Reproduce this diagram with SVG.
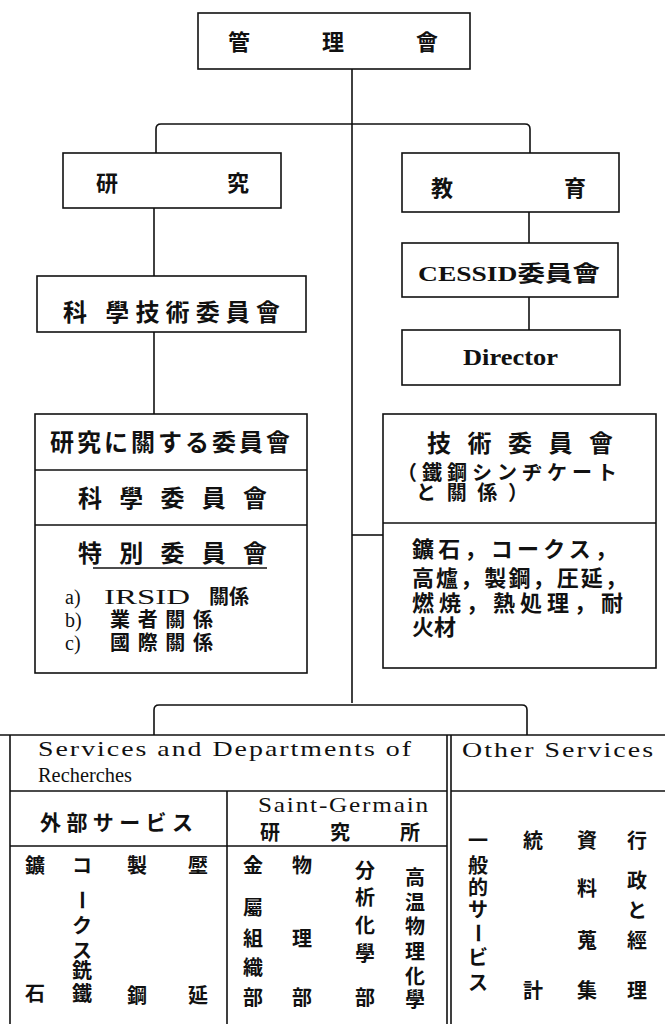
<svg xmlns="http://www.w3.org/2000/svg" width="665" height="1024" viewBox="0 0 665 1024">
<style>
.bx{fill:none;stroke:#111;stroke-width:1.6}
.ln{fill:none;stroke:#111;stroke-width:1.6}
.t{font-family:"Liberation Serif","Noto Sans CJK JP",serif;fill:#111}
.cj{font-family:"Liberation Serif","Noto Sans CJK JP",serif;font-weight:700;fill:#111}
.c22{font-size:22px}
.c24{font-size:24px}
.c20{font-size:20px}
.v{font-family:"Noto Sans CJK JP",sans-serif;font-weight:700;font-size:20px;fill:#111;text-anchor:middle}
.lat{font-family:"Liberation Serif",serif;font-size:21px;letter-spacing:1.5px;fill:#111}
</style>
<rect width="665" height="1024" fill="#fff"/>
<g id="connectors">
<path class="ln" d="M352 69 V703"/>
<path class="ln" d="M156 153 V129 Q156 124 161 124 H525 Q530 124 530 129 V153"/>
<path class="ln" d="M154 208 V276"/>
<path class="ln" d="M154 332 V414"/>
<path class="ln" d="M529 212 V243"/>
<path class="ln" d="M529 297 V330"/>
<path class="ln" d="M352 535 H383"/>
<path class="ln" d="M154 735 V710 Q154 705 159 705 H522 Q527 705 527 710 V735"/>
</g>
<g id="kanri">
<rect class="bx" x="198" y="13" width="272" height="56"/>
<text class="cj c22" x="239" y="50" text-anchor="middle">管</text>
<text class="cj c22" x="333" y="50" text-anchor="middle">理</text>
<text class="cj c22" x="427" y="50" text-anchor="middle">會</text>
</g>
<g id="kenkyu">
<rect class="bx" x="63" y="153" width="218" height="55"/>
<text class="cj c22" x="107" y="191" text-anchor="middle">研</text>
<text class="cj c22" x="238" y="191" text-anchor="middle">究</text>
</g>
<g id="kyoiku">
<rect class="bx" x="402" y="153" width="217" height="59"/>
<text class="cj c22" x="442" y="196" text-anchor="middle">教</text>
<text class="cj c22" x="575" y="196" text-anchor="middle">育</text>
</g>
<g id="kagaku-gijutsu">
<rect class="bx" x="37" y="276" width="269" height="56"/>
<text class="cj c24" x="63" y="321" textLength="217" lengthAdjust="spacing">科 學技術委員會</text>
</g>
<g id="cessid">
<rect class="bx" x="402" y="243" width="216" height="54"/>
<text class="cj c22" x="418" y="281" textLength="182" lengthAdjust="spacingAndGlyphs">CESSID委員會</text>
</g>
<g id="director">
<rect class="bx" x="402" y="330" width="218" height="55"/>
<text class="cj c24" x="463" y="365" textLength="95" lengthAdjust="spacingAndGlyphs">Director</text>
</g>
<g id="research-committees">
<rect class="bx" x="35" y="414" width="272" height="259"/>
<path class="ln" d="M35 470 H307 M35 525 H307"/>
<text class="cj c24" x="50" y="451" textLength="240" lengthAdjust="spacing">研究に關する委員會</text>
<text class="cj c24" x="78" y="507" textLength="189" lengthAdjust="spacing">科學委員會</text>
<text class="cj c24" x="78" y="562" textLength="189" lengthAdjust="spacing">特別委員會</text>
<path class="ln" d="M93 568 H267"/>
<text class="t" font-size="20" x="65" y="604">a) <tspan x="104" font-size="22" textLength="86" lengthAdjust="spacingAndGlyphs">IRSID</tspan> <tspan x="209" font-weight="700">關係</tspan></text>
<text class="t" font-size="20" x="65" y="627">b) <tspan x="110" font-weight="700" textLength="103" lengthAdjust="spacing">業者關係</tspan></text>
<text class="t" font-size="20" x="65" y="650">c) <tspan x="110" font-weight="700" textLength="103" lengthAdjust="spacing">國際關係</tspan></text>
</g>
<g id="technical-committee">
<rect class="bx" x="383" y="414" width="273" height="254"/>
<path class="ln" d="M383 523 H656"/>
<text class="cj c24" x="427" y="452" textLength="186" lengthAdjust="spacing">技術委員會</text>
<text class="cj c20" x="397" y="480" textLength="220" lengthAdjust="spacing">（鐵鋼シンヂケート</text>
<text class="cj c20" x="416" y="500" textLength="112" lengthAdjust="spacing">と關係）</text>
<text class="cj c22" x="412" y="557" textLength="205" lengthAdjust="spacing">鑛石，コークス，</text>
<text class="cj c22" x="412" y="586" textLength="215" lengthAdjust="spacing">高爐，製鋼，圧延，</text>
<text class="cj c22" x="412" y="611" textLength="211" lengthAdjust="spacing">燃焼，熱処理，耐</text>
<text class="cj c22" x="412" y="635">火材</text>
</g>
<g id="services-table">
<path class="ln" d="M0 735 H665 M10 735 V1024 M447 735 V1024 M451 735 V1024 M10 791 H447 M451 791 H665 M227 791 V1024 M10 846 H447"/>
<text class="lat" x="38" y="756" textLength="375" lengthAdjust="spacingAndGlyphs">Services and  Departments of</text>
<text class="lat" x="38" y="782" style="letter-spacing:0;font-size:22px" textLength="94" lengthAdjust="spacingAndGlyphs">Recherches</text>
<text class="lat" x="462" y="757" textLength="193" lengthAdjust="spacingAndGlyphs">Other Services</text>
<text class="lat" x="258" y="812" textLength="172" lengthAdjust="spacingAndGlyphs">Saint-Germain</text>
<text class="v" x="270" y="840">研</text>
<text class="v" x="340" y="840">究</text>
<text class="v" x="410" y="840">所</text>
<text class="cj" font-size="21" x="40" y="830" textLength="153" lengthAdjust="spacing">外部サービス</text>
</g>
<g id="gaibu-columns">
<text class="v" x="35" y="873">鑛</text>
<text class="v" x="35" y="1001">石</text>
<text class="v" x="82" y="873">コ</text>
<text class="v" x="82" y="908" transform="rotate(90 82 900)">ー</text>
<text class="v" x="82" y="933">ク</text>
<text class="v" x="82" y="958">ス</text>
<text class="v" x="82" y="978">銑</text>
<text class="v" x="82" y="1001">鐵</text>
<text class="v" x="137" y="873">製</text>
<text class="v" x="137" y="1003">鋼</text>
<text class="v" x="198" y="873">壓</text>
<text class="v" x="198" y="1003">延</text>
</g>
<g id="saint-germain-columns">
<text class="v" x="253" y="873">金</text>
<text class="v" x="253" y="915">屬</text>
<text class="v" x="253" y="946">組</text>
<text class="v" x="253" y="975">織</text>
<text class="v" x="253" y="1005">部</text>
<text class="v" x="302" y="873">物</text>
<text class="v" x="302" y="946">理</text>
<text class="v" x="302" y="1005">部</text>
<text class="v" x="365" y="878">分</text>
<text class="v" x="365" y="905">析</text>
<text class="v" x="365" y="933">化</text>
<text class="v" x="365" y="961">學</text>
<text class="v" x="365" y="1005">部</text>
<text class="v" x="415" y="885">高</text>
<text class="v" x="415" y="910">温</text>
<text class="v" x="415" y="934">物</text>
<text class="v" x="415" y="959">理</text>
<text class="v" x="415" y="984">化</text>
<text class="v" x="415" y="1007">學</text>
</g>
<g id="other-columns">
<text class="v" x="478" y="848">一</text>
<text class="v" x="478" y="873">般</text>
<text class="v" x="478" y="895">的</text>
<text class="v" x="478" y="917">サ</text>
<text class="v" x="478" y="941" transform="rotate(90 478 933)">ー</text>
<text class="v" x="478" y="965">ビ</text>
<text class="v" x="478" y="990">ス</text>
<text class="v" x="533" y="848">統</text>
<text class="v" x="533" y="998">計</text>
<text class="v" x="587" y="848">資</text>
<text class="v" x="587" y="896">料</text>
<text class="v" x="587" y="948">蒐</text>
<text class="v" x="587" y="998">集</text>
<text class="v" x="637" y="848">行</text>
<text class="v" x="637" y="888">政</text>
<text class="v" x="637" y="918">と</text>
<text class="v" x="637" y="948">經</text>
<text class="v" x="637" y="998">理</text>
</g>
</svg>
